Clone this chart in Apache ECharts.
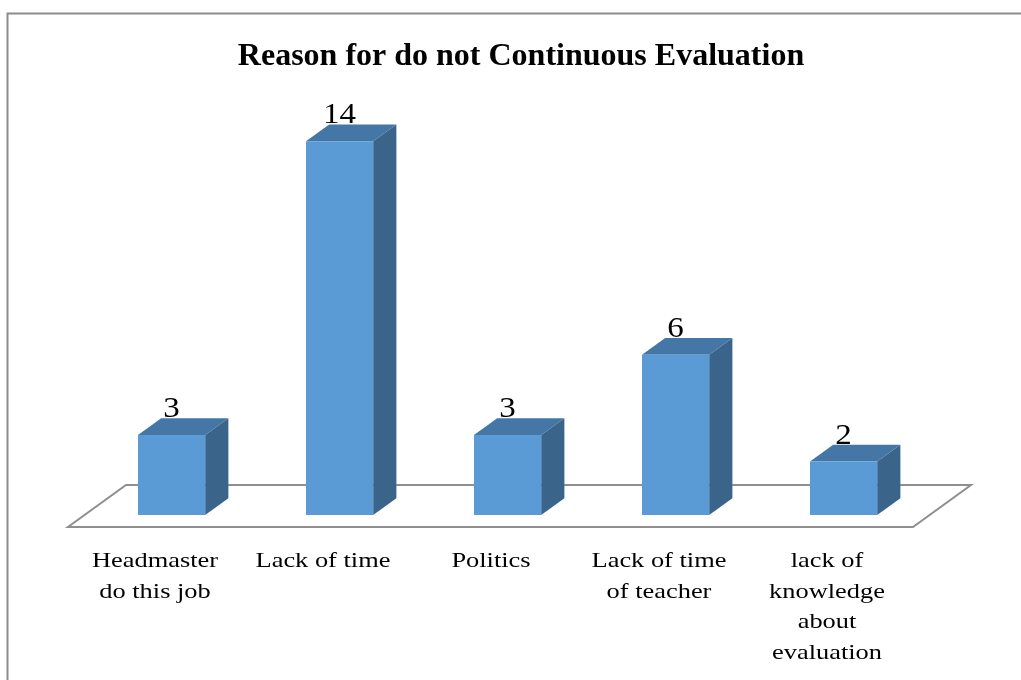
<!DOCTYPE html>
<html>
<head>
<meta charset="utf-8">
<style>html,body{margin:0;padding:0;background:#fff;}#main{width:1021px;height:680px;}</style>
<script src="https://cdn.jsdelivr.net/npm/echarts@6/dist/echarts.min.js"></script>
</head>
<body>
<div id="main"></div>
<script>
var categories = ["Headmaster\ndo this job", "Lack of time", "Politics", "Lack of time\nof teacher", "lack of\nknowledge\nabout\nevaluation"];
var values = [3, 14, 3, 6, 2];
var titleText = "Reason for do not Continuous Evaluation";

var SERIF = "'Times New Roman','Liberation Serif',serif";
var chart = echarts.init(document.getElementById('main'));

// 3D projection settings (styling only)
var FLOOR_DX = 58, FLOOR_DY = -42;
var BAR_FRONT_FRAC = 0.286;  // bar front sits this far into the floor depth
var BAR_DEPTH_FRAC = 0.40;   // bar depth relative to floor depth

function renderBar(params, api) {
  var i = api.value(0), v = api.value(1);
  var top = api.coord([i, v]);
  var base = api.coord([i, 0]);
  var band = api.size([1, 0])[0];
  var w = band * 0.40;
  var ox = FLOOR_DX * BAR_FRONT_FRAC, oy = FLOOR_DY * BAR_FRONT_FRAC;
  var dx = FLOOR_DX * BAR_DEPTH_FRAC, dy = FLOOR_DY * BAR_DEPTH_FRAC;
  var cx = top[0] + ox;
  var x0 = cx - w / 2, x1 = cx + w / 2;
  var yT = top[1] + oy, yB = base[1] + oy;
  return {
    type: 'group',
    children: [
      { type: 'polygon', shape: { points: [[x1, yB], [x1 + dx, yB + dy], [x1 + dx, yT + dy], [x1, yT]] },
        style: { fill: '#3a6489' } },
      { type: 'polygon', shape: { points: [[x0, yT], [x1, yT], [x1 + dx, yT + dy], [x0 + dx, yT + dy]] },
        style: { fill: '#4476a6' } },
      { type: 'rect', shape: { x: x0, y: yT, width: w, height: yB - yT },
        style: { fill: '#5b9bd5' } },
      { type: 'text', x: cx, y: yT + dy + 6, scaleX: 1.1,
        style: { text: String(v), fill: '#000', font: '30px ' + SERIF, align: 'center', verticalAlign: 'bottom' } }
    ]
  };
}

function renderFloor(params, api) {
  var cs = params.coordSys;
  var yF = cs.y + cs.height;
  var xL = cs.x - 3, xR = cs.x + cs.width + 2;
  return {
    type: 'polygon',
    shape: { points: [[xL, yF], [xR, yF], [xR + FLOOR_DX, yF + FLOOR_DY], [xL + FLOOR_DX, yF + FLOOR_DY]] },
    style: { fill: '#fff', stroke: '#8f8f8f', lineWidth: 2 }
  };
}

function renderLabel(params, api) {
  var i = api.value(0);
  var p = api.coord([i, 0]);
  return {
    type: 'text', x: p[0], y: p[1] + 19, scaleX: 1.2,
    style: { text: categories[i], fill: '#000', font: '22px ' + SERIF, lineHeight: 30.5,
      align: 'center', verticalAlign: 'top' }
  };
}

chart.setOption({
  animation: false,
  backgroundColor: '#fff',
  graphic: [{ type: 'rect', shape: { x: 7.5, y: 13.5, width: 1030, height: 700 },
    style: { fill: 'none', stroke: '#8c8c8c', lineWidth: 2 }, z: -10 }],
  title: {
    text: titleText, left: 516, top: 36, textAlign: 'center',
    textStyle: { fontFamily: SERIF, fontWeight: 'bold', fontSize: 32, color: '#000' }
  },
  grid: { left: 71, right: 110, top: 100, bottom: 153 },
  xAxis: {
    type: 'category', data: categories,
    axisLine: { show: false }, axisTick: { show: false }, splitLine: { show: false },
    axisLabel: { show: false }
  },
  yAxis: { type: 'value', min: 0, max: 16, show: false, splitLine: { show: false } },
  series: [
    { type: 'custom', renderItem: renderFloor, data: [[0, 0]], silent: true, z: 1 },
    { type: 'custom', renderItem: renderBar, data: values.map(function (v, i) { return [i, v]; }),
      encode: { x: 0, y: 1 }, z: 2 },
    { type: 'custom', renderItem: renderLabel, data: categories.map(function (c, i) { return [i, 0]; }),
      encode: { x: 0, y: 1 }, silent: true, z: 3 }
  ]
});
</script>
</body>
</html>
